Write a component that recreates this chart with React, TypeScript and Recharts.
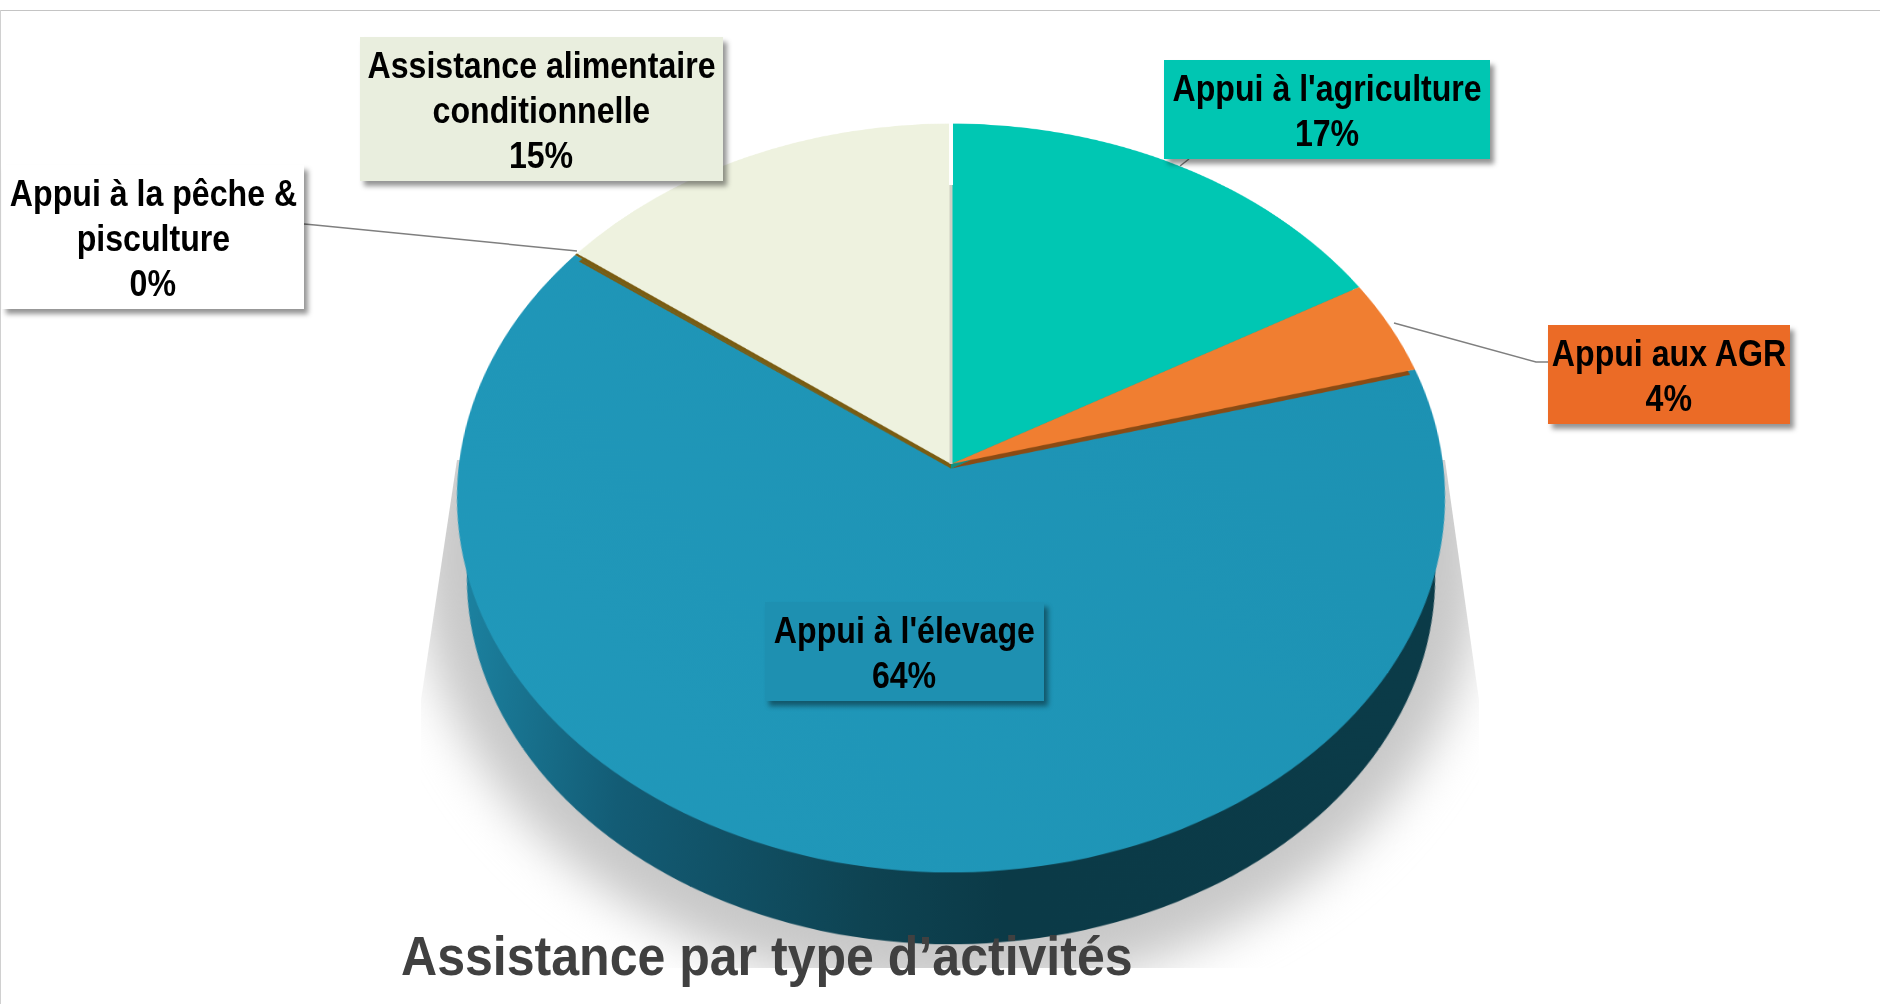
import React from 'react';
import { PieChart, Pie, Cell } from 'recharts';

// slices run clockwise from twelve o'clock
const categories = [
    "Appui à l'agriculture",
    'Appui aux AGR',
    "Appui à l'élevage",
    'Appui à la pêche & pisculture',
    'Assistance alimentaire conditionnelle',
];
const shares = [16.7, 4.1, 64.3, 0.1, 14.8];
const topColors = ['#00c7b3', '#f07e31', 'url(#topBlue)', '#7a5c12', '#eef2df'];
const edgeColors = ['#0e8f82', '#8a4b14', 'none', '#7a5c12', '#7a5c12'];

const chartTitle = 'Assistance par type d’activités';

const pieData = categories.map((name, i) => ({ name, value: shares[i] }));

const FONT = "'Liberation Sans', Arial, sans-serif";
const SIZE = 1000;
const RADIUS = 492;
const TILT = 'perspective(3556px) rotateX(41deg)';

// the disc is a flat pie tilted in 3D around the pie centre
function Disc({ transform, children }: { transform: string; children: React.ReactNode }) {
    return (
        <div
            style={{
                position: 'absolute',
                left: 951 - SIZE / 2,
                top: 464 - SIZE / 2,
                width: SIZE,
                height: SIZE,
                transform,
                transformOrigin: '50% 50%',
            }}
        >
            <PieChart width={SIZE} height={SIZE} margin={{ top: 0, right: 0, bottom: 0, left: 0 }}>
                {children}
            </PieChart>
        </div>
    );
}

function slicePie(key: string, colors: string[], radius: number, shift: number) {
    return (
        <Pie
            key={key}
            data={pieData}
            dataKey="value"
            nameKey="name"
            cx={SIZE / 2}
            cy={SIZE / 2 + shift}
            innerRadius={0}
            outerRadius={radius}
            startAngle={90}
            endAngle={-270}
            stroke="none"
            isAnimationActive={false}
        >
            {pieData.map((d, i) => (
                <Cell key={d.name} fill={colors[i]} />
            ))}
        </Pie>
    );
}

function Label({ left, top, width, height, bg, lines }: {
    left: number; top: number; width: number; height: number; bg: string; lines: string[];
}) {
    return (
        <div
            style={{
                position: 'absolute',
                left,
                top,
                width,
                height,
                background: bg,
                boxShadow: '4px 5px 5px rgba(0,0,0,0.42)',
                display: 'flex',
                flexDirection: 'column',
                justifyContent: 'center',
                fontFamily: FONT,
                fontWeight: 700,
                fontSize: 37,
                lineHeight: '45px',
                color: '#000',
                whiteSpace: 'nowrap',
            }}
        >
            {/* no narrow bold font is installed, so the text is squeezed */}
            {lines.map((l) => (
                <div key={l} style={{ display: 'flex', justifyContent: 'center' }}>
                    <span style={{ display: 'block', flex: 'none', transform: 'translateY(1px) scaleX(0.868)' }}>{l}</span>
                </div>
            ))}
        </div>
    );
}

const pct = (i: number) => `${Math.round(shares[i])}%`;

export default function App() {
    const wallColors = categories.map(() => 'url(#wallShade)');
    const onlyBlue = topColors.map((c, i) => (i === 2 ? c : 'none'));
    const exceptBlue = topColors.map((c, i) => (i === 2 ? 'none' : c));

    return (
        <div
            style={{
                position: 'absolute',
                left: 0,
                top: 0,
                width: 1880,
                height: 1004,
                background: '#fff',
                overflow: 'hidden',
            }}
        >
            {/* frame */}
            <div style={{ position: 'absolute', left: 0, top: 10, width: 1880, height: 1, background: '#c4c4c4' }} />
            <div style={{ position: 'absolute', left: 0, top: 10, width: 1, height: 994, background: '#d0d0d0' }} />

            {/* ground shadow, clipped like the reference */}
            <div
                style={{
                    position: 'absolute',
                    left: 0,
                    top: 0,
                    width: 1880,
                    height: 1004,
                    clipPath: 'polygon(457px 460px, 1445px 460px, 1479px 700px, 1479px 968px, 421px 968px, 421px 700px)',
                }}
            >
                <div
                    style={{
                        position: 'absolute',
                        left: 418,
                        top: 125,
                        width: 1064,
                        height: 868,
                        borderRadius: '50%',
                        background: '#c8c8c8',
                        filter: 'blur(24px)',
                    }}
                />
            </div>

            {/* side wall */}
            <Disc transform={`translateY(80px) scale(0.98) ${TILT}`}>
                <defs>
                    <linearGradient id="wallShade" gradientUnits="userSpaceOnUse" x1="0" y1="0" x2={SIZE} y2="0">
                        <stop offset="0" stopColor="#1c84a3" />
                        <stop offset="0.18" stopColor="#135c75" />
                        <stop offset="0.42" stopColor="#0e4352" />
                        <stop offset="0.55" stopColor="#0b3a47" />
                        <stop offset="1" stopColor="#0b3b48" />
                    </linearGradient>
                </defs>
                {slicePie('wall', wallColors, RADIUS, 0)}
            </Disc>

            {/* top face */}
            <Disc transform={TILT}>
                <defs>
                    <linearGradient id="topBlue" gradientUnits="userSpaceOnUse" x1="0" y1={SIZE} x2={SIZE} y2="300">
                        <stop offset="0" stopColor="#2199bb" />
                        <stop offset="1" stopColor="#1c91b2" />
                    </linearGradient>
                </defs>
                {slicePie('blue', onlyBlue, RADIUS, 0)}
                {slicePie('edge', edgeColors, RADIUS - 6, 6)}
                {slicePie('top', exceptBlue, RADIUS, 0)}
            </Disc>

            {/* seam and leader lines */}
            <svg width={1880} height={1004} style={{ position: 'absolute', left: 0, top: 0 }}>
                <line x1={951} y1={123} x2={951} y2={185} stroke="#fff" strokeWidth={4} />
                <line x1={951} y1={185} x2={951} y2={464} stroke="#cfcfc4" strokeWidth={3} />
                <polyline points="304,224 315,225 577,251" fill="none" stroke="#7f7f7f" strokeWidth={1.5} />
                <polyline points="1548,362 1536,362 1394,323" fill="none" stroke="#7f7f7f" strokeWidth={1.5} />
                <polyline points="1189,159 1180,166" fill="none" stroke="#7f7f7f" strokeWidth={1.5} />
            </svg>

            <Label left={1164} top={60} width={326} height={99} bg="#00c6b2" lines={[categories[0], pct(0)]} />
            <Label left={1548} top={325} width={242} height={99} bg="#eb6b26" lines={[categories[1], pct(1)]} />
            <Label left={765} top={602} width={279} height={99} bg="#1e90b1" lines={[categories[2], pct(2)]} />
            <Label left={2} top={165} width={302} height={144} bg="#fff" lines={['Appui à la pêche &', 'pisculture', pct(3)]} />
            <Label left={360} top={37} width={363} height={144} bg="#e9eede" lines={['Assistance alimentaire', 'conditionnelle', pct(4)]} />

            <div
                style={{
                    position: 'absolute',
                    left: 401,
                    top: 923,
                    fontFamily: FONT,
                    fontWeight: 700,
                    fontSize: 55,
                    lineHeight: '66px',
                    color: '#404040',
                    whiteSpace: 'nowrap',
                    transform: 'scaleX(0.91)',
                    transformOrigin: '0 50%',
                }}
            >
                {chartTitle}
            </div>
        </div>
    );
}
